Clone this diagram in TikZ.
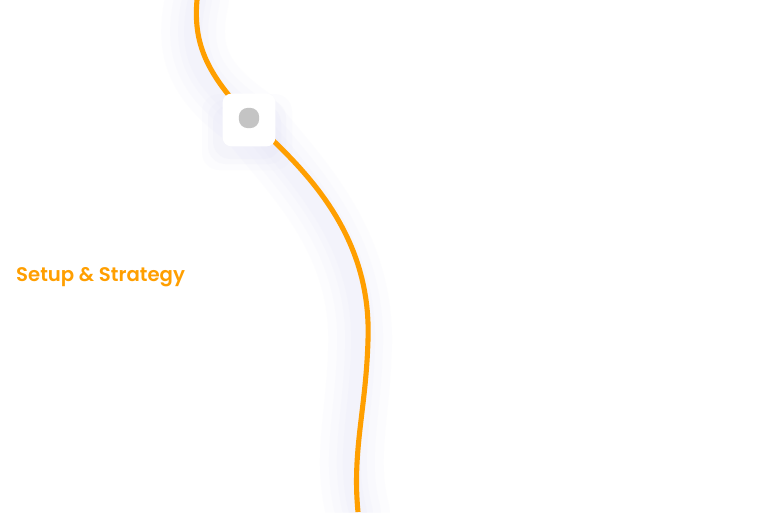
\documentclass[tikz,border=0pt]{standalone}
\usepackage{fontspec}
\setmainfont{Poppins}[BoldFont={Poppins SemiBold}]
\definecolor{roadorange}{RGB}{255,159,0}
\definecolor{glowblue}{RGB}{228,228,246}
\definecolor{dotgray}{RGB}{196,196,196}
\tikzset{
  road/.style={draw=roadorange,line width=2.9pt},
  glow/.style={draw=glowblue,line cap=round},
  stopbox/.style={fill=white,rounded corners=5pt,minimum size=30pt,inner sep=0pt},
  stopdot/.style={fill=dotgray,rounded corners=5pt,minimum size=11.5pt,inner sep=0pt},
  phase/.style={text=roadorange,font=\bfseries\fontsize{11.2}{13}\selectfont,anchor=west}
}
\begin{document}
\begin{tikzpicture}[x=0.02cm,y=-0.02cm]
  \fill[white] (0,0) rectangle (768,512);
  \useasboundingbox (0,0) rectangle (768,512);
  \coordinate (top) at (197,0);
  \coordinate (stop) at (249,118);
  \coordinate (bottom) at (358,512);
  % soft shadow under the road
  \foreach \w/\o in {64/0.08,46/0.1,30/0.12,18/0.15}{
    \draw[glow,line width=\w*0.567pt,opacity=\o,shift={(-8,8)}]
      (top) .. controls (193,45) and (208,75) .. (stop)
      .. controls (300,165) and (372,230) .. (368,340)
      .. controls (366,410) and (352,450) .. (bottom);
  }
  \foreach \r/\o in {14/0.1,8/0.15,3/0.2}{
    \fill[glowblue,opacity=\o,rounded corners=10pt] (216-\r,98-\r+10) rectangle (278+\r,150+\r+6);
  }
  % the road
  \draw[road] (top) .. controls (193,45) and (208,75) .. (stop)
    .. controls (300,165) and (372,230) .. (368,340)
    .. controls (366,410) and (352,450) .. (bottom);
  \node[stopbox] (box) at (249,120) {};
  \node[stopdot] (dot) at (stop) {};
  \node[phase] (label) at (10,277) {Setup \& Strategy};
\end{tikzpicture}
\end{document}
